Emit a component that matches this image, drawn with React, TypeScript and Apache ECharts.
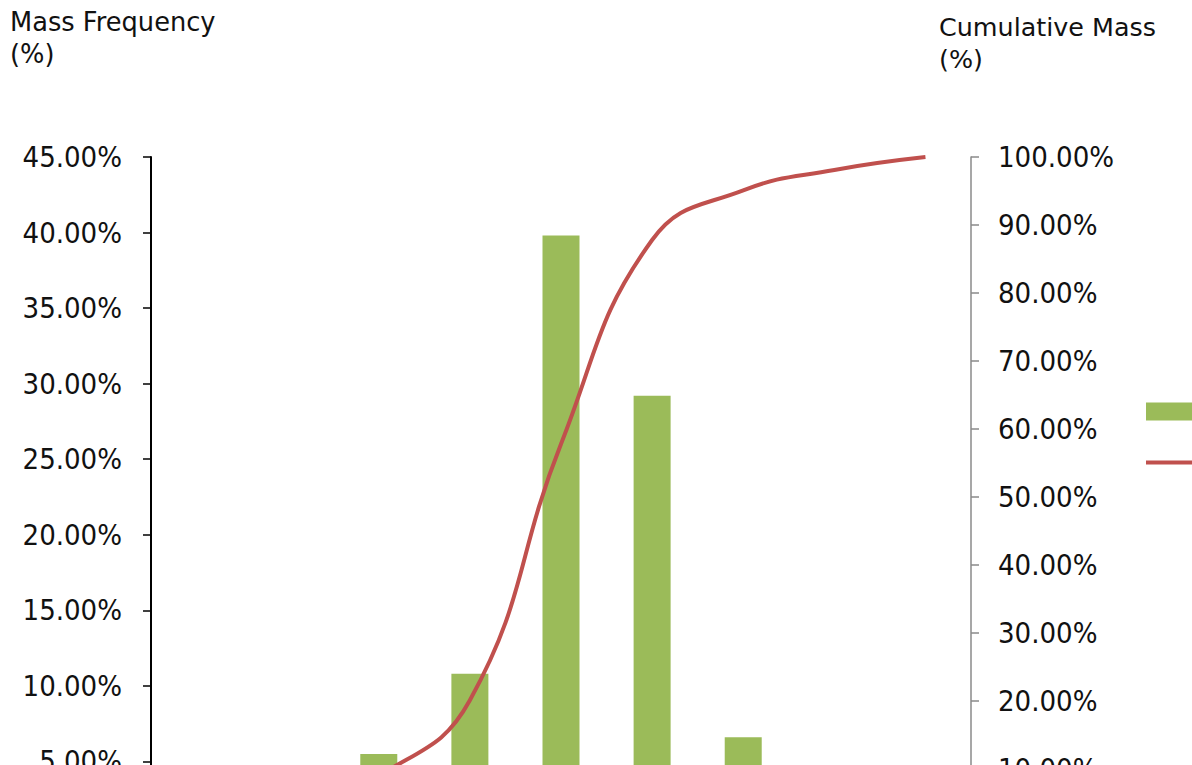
import React, { useEffect, useRef } from "react";
import * as echarts from "echarts";

const categories = ["0.063", "0.125", "0.25", "0.5", "1", "2", "4", "8", "16"];
const massFrequency = [1.0, 2.5, 5.5, 10.8, 39.8, 29.2, 6.6, 3.0, 1.6];
const cumulativeMass = [1.0, 3.5, 9.0, 20.1, 57.8, 87.8, 95.1, 98.1, 100.0];
const leftTicks = { min: 0, max: 45, interval: 5 };
const rightTicks = { min: 0, max: 100, interval: 10 };

const TICK_FONT = "'DejaVu Sans Condensed', 'DejaVu Sans', sans-serif";
const TITLE_FONT = "'DejaVu Sans', sans-serif";

export default function App() {
  const ref = useRef<HTMLDivElement>(null);
  useEffect(() => {
    if (!ref.current) return;
    const chart = echarts.init(ref.current, undefined, { renderer: "svg" });
    chart.setOption({
      animation: false,
      backgroundColor: "#ffffff",
      title: [
        {
          text: "Mass Frequency\n(%)",
          left: 10,
          top: 6,
          padding: 0,
          textStyle: { fontFamily: TITLE_FONT, fontSize: 25.7, fontWeight: "normal", color: "#111", lineHeight: 32 },
        },
        {
          text: "Cumulative Mass\n(%)",
          left: 939,
          top: 11,
          padding: 0,
          textStyle: { fontFamily: TITLE_FONT, fontSize: 25.4, fontWeight: "normal", color: "#111", lineHeight: 32 },
        },
      ],
      legend: {
        orient: "vertical",
        left: 1146,
        top: 399,
        itemWidth: 52,
        itemHeight: 18,
        itemGap: 26,
        padding: 0,
        textStyle: { fontFamily: TITLE_FONT, fontSize: 25, color: "#111" },
        data: [
          { name: "Mass Frequency", icon: "rect" },
          { name: "Cumulative Mass", icon: "path://M0,0H52V4H0Z" },
        ],
      },
      grid: {
        left: 151,
        right: 429,
        top: 157,
        bottom: 63,
        containLabel: false,
        outerBoundsMode: "none",
      },
      xAxis: {
        type: "category",
        data: categories,
        axisLine: { show: true, lineStyle: { color: "#000", width: 2 } },
        axisTick: { show: false },
        axisLabel: { fontFamily: TICK_FONT, fontSize: 28, color: "#111" },
      },
      yAxis: [
        {
          type: "value",
          min: leftTicks.min,
          max: leftTicks.max,
          interval: leftTicks.interval,
          position: "left",
          splitLine: { show: false },
          axisLine: { show: true, lineStyle: { color: "#000", width: 2 } },
          axisTick: { show: true, length: 8, lineStyle: { color: "#000", width: 1.5 } },
          axisLabel: {
            margin: 29,
            fontFamily: TICK_FONT,
            fontSize: 29,
            color: "#111",
            formatter: (v: number) => v.toFixed(2) + "%",
          },
        },
        {
          type: "value",
          min: rightTicks.min,
          max: rightTicks.max,
          interval: rightTicks.interval,
          position: "right",
          splitLine: { show: false },
          axisLine: { show: true, lineStyle: { color: "#8a8a8a", width: 1.5 } },
          axisTick: { show: true, length: 8, lineStyle: { color: "#8a8a8a", width: 1.5 } },
          axisLabel: {
            margin: 27,
            fontFamily: TICK_FONT,
            fontSize: 29,
            color: "#111",
            formatter: (v: number) => v.toFixed(2) + "%",
          },
        },
      ],
      series: [
        {
          name: "Mass Frequency",
          type: "bar",
          yAxisIndex: 0,
          data: massFrequency,
          barWidth: 37,
          itemStyle: { color: "#9BBB59" },
        },
        {
          name: "Cumulative Mass",
          type: "line",
          yAxisIndex: 1,
          data: cumulativeMass,
          smooth: 0.45,
          symbol: "none",
          showSymbol: false,
          lineStyle: { color: "#C0504D", width: 4 },
          itemStyle: { color: "#C0504D" },
        },
      ],
    });
    return () => chart.dispose();
  }, []);

  return (
    <div style={{ position: "fixed", left: 0, top: 0, width: 1192, height: 765, overflow: "hidden", background: "#fff" }}>
      <div ref={ref} style={{ position: "absolute", left: 0, top: 0, width: 1400, height: 900 }} />
    </div>
  );
}
